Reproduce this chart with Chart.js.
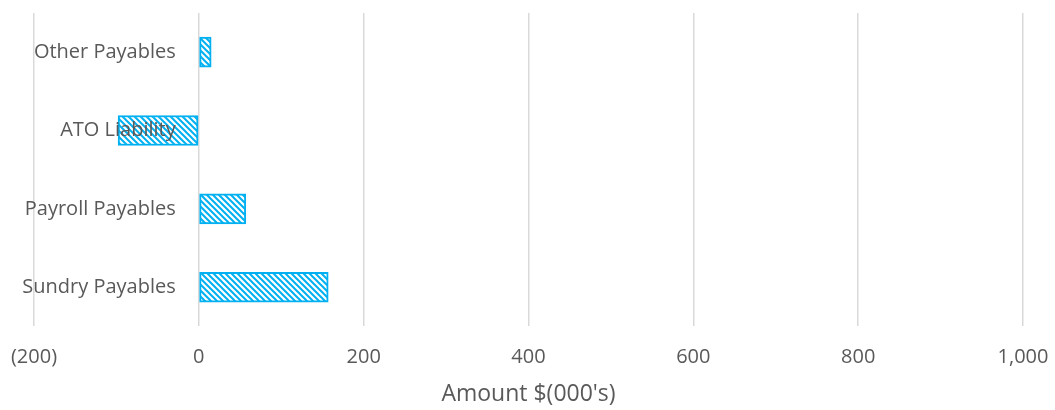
<!DOCTYPE html>
<html>
<head>
<meta charset="utf-8">
<script src="https://cdn.jsdelivr.net/npm/chart.js@4"></script>
<style>
  html, body { margin: 0; padding: 0; background: #fff; }
  #wrap { width: 1055px; height: 410px; }
</style>
</head>
<body>
<div id="wrap"><canvas id="chart"></canvas></div>
<script>
// payables, $000's
const categories = ['Other Payables', 'ATO Liability', 'Payroll Payables', 'Sundry Payables'];
const amounts = [15, -98, 57, 157];
const xTicks = [-200, 0, 200, 400, 600, 800, 1000];

const blue = '#00B0F0';
const textGrey = '#595959';
const fontFamily = '"Open Sans", Lato, sans-serif';

// diagonal hatch fill
function hatch() {
    const c = document.createElement('canvas');
    c.width = 6;
    c.height = 6;
    const g = c.getContext('2d');
    g.fillStyle = '#fff';
    g.fillRect(0, 0, 6, 6);
    g.strokeStyle = blue;
    g.lineWidth = 2;
    g.beginPath();
    g.moveTo(-1, -1); g.lineTo(7, 7);
    g.moveTo(-4, 2); g.lineTo(2, 8);
    g.moveTo(4, -2); g.lineTo(8, 2);
    g.stroke();
    return g.createPattern(c, 'repeat');
}

const fmt = v => {
    const s = Math.abs(v).toLocaleString('en-US');
    return v < 0 ? '(' + s + ')' : s;
};

const chart = new Chart(document.querySelector('#chart'), {
    type: 'bar',
    data: {
        labels: categories,
        datasets: [{
            data: amounts,
            backgroundColor: hatch(),
            borderColor: blue,
            borderWidth: 2,
            borderSkipped: false,
            barThickness: 30
        }]
    },
    options: {
        indexAxis: 'y',
        responsive: true,
        maintainAspectRatio: false,
        animation: false,
        layout: { padding: { left: 34, right: 32, top: 13, bottom: 2 } },
        plugins: { legend: { display: false }, tooltip: { enabled: false } },
        scales: {
            x: {
                min: -200,
                max: 1000,
                afterBuildTicks: axis => { axis.ticks = xTicks.map(v => ({ value: v })); },
                // invisible tick marks just push the labels down
                grid: { color: '#d9d9d9', lineWidth: 1.5, drawTicks: true, tickLength: 19, tickColor: 'rgba(0,0,0,0)' },
                border: { display: false },
                ticks: {
                    color: textGrey,
                    padding: 0,
                    maxRotation: 0,
                    font: { family: fontFamily, size: 20 },
                    callback: v => fmt(v)
                },
                title: {
                    display: true,
                    text: "Amount $(000's)",
                    color: textGrey,
                    padding: { top: 11, bottom: 0 },
                    font: { family: fontFamily, size: 23 }
                }
            },
            y: {
                // category names sit just left of the zero line, over the bars
                position: { x: -28 },
                grid: { display: false },
                border: { display: false },
                ticks: {
                    z: 1,
                    color: textGrey,
                    padding: 0,
                    font: { family: fontFamily, size: 20 }
                }
            }
        }
    }
});
</script>
</body>
</html>
